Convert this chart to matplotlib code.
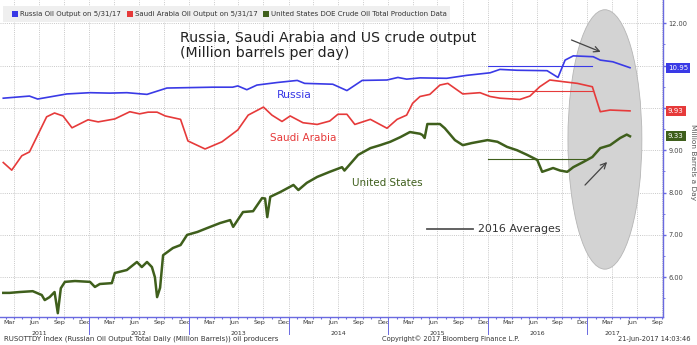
import matplotlib
matplotlib.use('Agg')
import matplotlib.pyplot as plt
import matplotlib.dates as mdates
from matplotlib.patches import Ellipse, Rectangle
from matplotlib.lines import Line2D
from matplotlib.transforms import blended_transform_factory
import pandas as pd

# ---------------- data (million barrels per day) ----------------
russia_dates = ['2011-02-20', '2011-05-27', '2011-06-26', '2011-10-11', '2012-01-04', '2012-03-16',
                '2012-05-18', '2012-07-31', '2012-10-12', '2013-03-29', '2013-06-10', '2013-06-29',
                '2013-08-01', '2013-09-07', '2013-11-20', '2014-02-02', '2014-03-01', '2014-06-12',
                '2014-08-03', '2014-09-28', '2014-12-28', '2015-02-06', '2015-03-10', '2015-04-28',
                '2015-08-04', '2015-10-17', '2016-01-10', '2016-02-15', '2016-04-18', '2016-08-06',
                '2016-09-15', '2016-10-11', '2016-11-10', '2017-01-22', '2017-02-17', '2017-04-04',
                '2017-06-06']
russia_values = [10.23, 10.28, 10.21, 10.33, 10.36, 10.35,
                 10.36, 10.32, 10.47, 10.49, 10.49, 10.52,
                 10.43, 10.54, 10.60, 10.65, 10.58, 10.56,
                 10.41, 10.65, 10.66, 10.72, 10.68, 10.71,
                 10.70, 10.77, 10.83, 10.91, 10.89, 10.88,
                 10.72, 11.13, 11.23, 11.21, 11.13, 11.09,
                 10.95]

saudi_dates = ['2011-02-20', '2011-03-23', '2011-04-29', '2011-05-27', '2011-07-29', '2011-08-27',
               '2011-09-27', '2011-10-30', '2011-12-28', '2012-02-03', '2012-04-04', '2012-05-29',
               '2012-07-04', '2012-08-04', '2012-09-06', '2012-10-06', '2012-12-01', '2012-12-28',
               '2013-03-01', '2013-05-02', '2013-06-29', '2013-08-06', '2013-10-01', '2013-11-01',
               '2013-12-08', '2014-01-07', '2014-02-23', '2014-04-16', '2014-06-01', '2014-07-01',
               '2014-08-03', '2014-09-01', '2014-10-28', '2014-12-28', '2015-02-03', '2015-03-10',
               '2015-04-01', '2015-04-28', '2015-06-03', '2015-07-10', '2015-08-08', '2015-10-02',
               '2015-12-04', '2016-01-10', '2016-02-15', '2016-04-28', '2016-06-04', '2016-07-10',
               '2016-08-16', '2016-10-04', '2016-11-25', '2017-01-19', '2017-02-17', '2017-03-25',
               '2017-06-06']
saudi_values = [8.71, 8.53, 8.87, 8.96, 9.79, 9.88,
                9.81, 9.53, 9.72, 9.67, 9.74, 9.91,
                9.86, 9.90, 9.90, 9.81, 9.73, 9.22,
                9.03, 9.20, 9.48, 9.83, 10.02, 9.83,
                9.68, 9.81, 9.65, 9.61, 9.69, 9.85,
                9.85, 9.61, 9.73, 9.52, 9.73, 9.83,
                10.11, 10.27, 10.32, 10.54, 10.58, 10.33,
                10.36, 10.27, 10.23, 10.20, 10.28, 10.50,
                10.66, 10.62, 10.58, 10.50, 9.91, 9.95,
                9.93]

us_dates = ['2011-02-20', '2011-03-15', '2011-04-21', '2011-06-08', '2011-07-11', '2011-07-22',
            '2011-08-09', '2011-08-27', '2011-09-08', '2011-09-19', '2011-10-04', '2011-11-10',
            '2012-01-04', '2012-01-22', '2012-02-09', '2012-03-24', '2012-04-04', '2012-05-18',
            '2012-06-24', '2012-07-12', '2012-07-31', '2012-08-18', '2012-08-29', '2012-09-06',
            '2012-09-17', '2012-09-28', '2012-11-03', '2012-12-01', '2012-12-25', '2013-02-01',
            '2013-03-08', '2013-04-25', '2013-06-01', '2013-06-12', '2013-07-18', '2013-08-24',
            '2013-09-26', '2013-10-07', '2013-10-15', '2013-10-26', '2013-12-01', '2014-01-19',
            '2014-02-06', '2014-03-09', '2014-04-16', '2014-06-01', '2014-07-16', '2014-07-25',
            '2014-09-13', '2014-10-28', '2014-12-03', '2015-01-09', '2015-02-15', '2015-03-22',
            '2015-04-28', '2015-05-07', '2015-05-15', '2015-05-25', '2015-07-10', '2015-07-28',
            '2015-09-03', '2015-10-02', '2015-11-04', '2016-01-01', '2016-02-06', '2016-03-12',
            '2016-04-18', '2016-05-25', '2016-07-01', '2016-07-19', '2016-08-28', '2016-09-23',
            '2016-10-19', '2016-11-10', '2016-12-16', '2017-01-19', '2017-02-17', '2017-03-25',
            '2017-05-01', '2017-05-25', '2017-06-06']
us_values = [5.63, 5.63, 5.65, 5.67, 5.58, 5.46,
             5.53, 5.65, 5.15, 5.74, 5.89, 5.91,
             5.89, 5.77, 5.84, 5.86, 6.10, 6.17,
             6.36, 6.24, 6.36, 6.24, 6.00, 5.53,
             5.75, 6.52, 6.69, 6.76, 7.00, 7.07,
             7.16, 7.28, 7.35, 7.19, 7.54, 7.56,
             7.87, 7.86, 7.42, 7.90, 8.01, 8.18,
             8.06, 8.23, 8.37, 8.49, 8.60, 8.52,
             8.89, 9.05, 9.12, 9.20, 9.31, 9.43,
             9.39, 9.36, 9.29, 9.62, 9.62, 9.52,
             9.24, 9.12, 9.17, 9.24, 9.20, 9.08,
             9.00, 8.89, 8.77, 8.49, 8.58, 8.52,
             8.49, 8.60, 8.72, 8.84, 9.05, 9.12,
             9.29, 9.37, 9.33]

avg_labels = ['Russia', 'Saudi Arabia', 'United States']
avg_values = [10.98, 10.41, 8.79]
avg_starts = ['2016-01-01', '2016-01-01', '2016-01-03']
avg_ends = ['2017-01-18', '2017-01-18', '2016-12-24']

legend_labels = ['Russia Oil Output on 5/31/17', 'Saudi Arabia Oil Output on 5/31/17',
                 'United States DOE Crude Oil Total Production Data']
y_ticks = [6, 7, 8, 9, 10, 11, 12]
y_tick_hidden = [10, 11]   # covered by the value tags in the reference

# ---------------- styling ----------------
C_RU = '#3a3ae6'
C_SA = '#e63a3a'
C_US = '#3f5f1c'
C_AX = '#6a6ae0'
GRID = '#c9c9c9'

fig = plt.figure(figsize=(6.97, 3.45), dpi=100)
fig.patch.set_facecolor('white')
ax = fig.add_axes([0.0, 28 / 345, 663 / 697, 317 / 345])
ax.set_facecolor('white')

D = pd.to_datetime
ax.set_xlim(D('2011-02-08'), D('2017-10-05'))
ax.set_ylim(5.06, 12.55)

# grid
for yv in y_ticks:
    ax.axhline(yv, color=GRID, lw=0.7, ls=(0, (1, 1.2)), zorder=0.5)
for gx in pd.date_range('2011-04-01', '2017-10-01', freq='QS'):
    ax.axvline(gx, color=GRID, lw=0.7, ls=(0, (1, 1.2)), zorder=0.5)

# highlight ellipse
ell = Ellipse((mdates.date2num(D('2017-03-06')), 9.255), width=271, height=6.13,
              facecolor='#d3d3d3', edgecolor='#b5b5b5', lw=0.6, zorder=1)
ax.add_patch(ell)

# series
ax.plot(D(russia_dates), russia_values, color=C_RU, lw=1.2, zorder=3)
ax.plot(D(saudi_dates), saudi_values, color=C_SA, lw=1.2, zorder=3)
ax.plot(D(us_dates), us_values, color=C_US, lw=1.8, zorder=3)

# 2016 averages
for v, s, e, c in zip(avg_values, avg_starts, avg_ends, [C_RU, C_SA, C_US]):
    ax.plot([D(s), D(e)], [v, v], color=c, lw=0.8, zorder=2.5)

# series labels
ax.text(D('2013-11-20'), 10.3, 'Russia', color=C_RU, fontsize=7.8, ha='left', va='center')
ax.text(D('2013-10-25'), 9.3, 'Saudi Arabia', color=C_SA, fontsize=7.5, ha='left', va='center')
ax.text(D('2014-08-20'), 8.23, 'United States', color=C_US, fontsize=7.5, ha='left', va='center')

# title
ax.text(180 / 663, 1 - 38 / 317, 'Russia, Saudi Arabia and US crude output',
        transform=ax.transAxes, fontsize=10.2, color='#222222', ha='left', va='center')
ax.text(180 / 663, 1 - 53 / 317, '(Million barrels per day)',
        transform=ax.transAxes, fontsize=10.2, color='#222222', ha='left', va='center')

# 2016 averages key
ax.plot([D('2015-05-22'), D('2015-11-09')], [7.14, 7.14], color='#555555', lw=1.3, zorder=3)
ax.text(D('2015-11-27'), 7.14, '2016 Averages', fontsize=7.9, color='#333333', ha='left', va='center')

# arrows
ax.annotate('', xy=(D('2017-02-28'), 11.30), xytext=(D('2016-10-25'), 11.63),
            arrowprops=dict(arrowstyle='->', color='#444444', lw=0.9), zorder=4)
ax.annotate('', xy=(D('2017-03-21'), 8.77), xytext=(D('2016-12-16'), 8.13),
            arrowprops=dict(arrowstyle='->', color='#444444', lw=0.9), zorder=4)

# axes styling
for s in ['left', 'top']:
    ax.spines[s].set_visible(False)
ax.spines['right'].set_color(C_AX)
ax.spines['bottom'].set_color(C_AX)
ax.spines['right'].set_linewidth(1.0)
ax.spines['bottom'].set_linewidth(1.0)

ax.yaxis.tick_right()
ax.set_yticks(y_ticks)
ax.set_yticklabels(['' if v in y_tick_hidden else f'{v:.2f}' for v in y_ticks])
ax.set_yticks([v + 0.5 for v in y_ticks[:-1]] + [5.5], minor=True)
ax.tick_params(axis='y', which='major', length=2.5, width=1.0, color=C_AX, labelsize=4.8,
               labelcolor='#444444', pad=1.5, direction='out')
ax.tick_params(axis='y', which='minor', length=1.5, width=0.6, color=C_AX, direction='out')

ax.xaxis.set_major_locator(mdates.MonthLocator(bymonth=[3, 6, 9, 12], bymonthday=15))
ax.xaxis.set_major_formatter(mdates.DateFormatter('%b'))
ax.xaxis.set_minor_locator(mdates.MonthLocator())
ax.tick_params(axis='x', which='major', length=0, labelsize=4.5, labelcolor='#333333', pad=2)
ax.tick_params(axis='x', which='minor', length=1.5, width=0.8, color=C_AX, direction='out')

trans = blended_transform_factory(ax.transData, ax.transAxes)
for yr in range(2012, 2018):
    ax.add_line(Line2D([D(f'{yr}-01-01')] * 2, [0, -0.055], transform=trans, color=C_AX,
                       lw=0.7, clip_on=False))
year_pos = ['2011-07-01', '2012-07-01', '2013-07-01', '2014-07-01', '2015-07-01',
            '2016-07-01', '2017-04-01']
for yp in year_pos:
    ax.text(D(yp), -0.045, yp[:4], transform=trans, fontsize=4.5, color='#333333',
            ha='center', va='top')

# value tags on right axis
for v, c in zip([russia_values[-1], saudi_values[-1], us_values[-1]], [C_RU, C_SA, C_US]):
    ax.annotate(f'{v:.2f}', xy=(1.0, v), xycoords=('axes fraction', 'data'),
                xytext=(3.5, 0), textcoords='offset points', ha='left', va='center',
                fontsize=5, color='white', zorder=10,
                bbox=dict(boxstyle='square,pad=0.3', fc=c, ec='none'), annotation_clip=False)

fig.text(693 / 697, 1 - 162 / 345, 'Million Barrels a Day', rotation=270, fontsize=5.3,
         color='#555555', ha='center', va='center')

# legend band at top
fig.patches.append(Rectangle((3 / 697, 1 - 22 / 345), 447 / 697, 16 / 345,
                             transform=fig.transFigure, facecolor='#efefef', edgecolor='none',
                             zorder=5))
leg_x = [12, 127, 263]
for lx, lab, c in zip(leg_x, legend_labels, [C_RU, C_SA, C_US]):
    fig.patches.append(Rectangle((lx / 697, 1 - 17 / 345), 6 / 697, 6 / 345,
                                 transform=fig.transFigure, facecolor=c, edgecolor='none',
                                 zorder=6))
    fig.text((lx + 8) / 697, 1 - 14 / 345, lab, fontsize=5, color='#333333',
             ha='left', va='center', zorder=6)

# footer
fig.text(4 / 697, 1 - 339 / 345,
         'RUSOTTDY Index (Russian Oil Output Total Daily (Million Barrels)) oil producers',
         fontsize=5, color='#333333', ha='left', va='center')
fig.text(382 / 697, 1 - 339 / 345, 'Copyright\u00a9 2017 Bloomberg Finance L.P.',
         fontsize=4.8, color='#333333', ha='left', va='center')
fig.text(618 / 697, 1 - 339 / 345, '21-Jun-2017 14:03:46',
         fontsize=4.8, color='#333333', ha='left', va='center')

fig.savefig('out.png', dpi=100)
